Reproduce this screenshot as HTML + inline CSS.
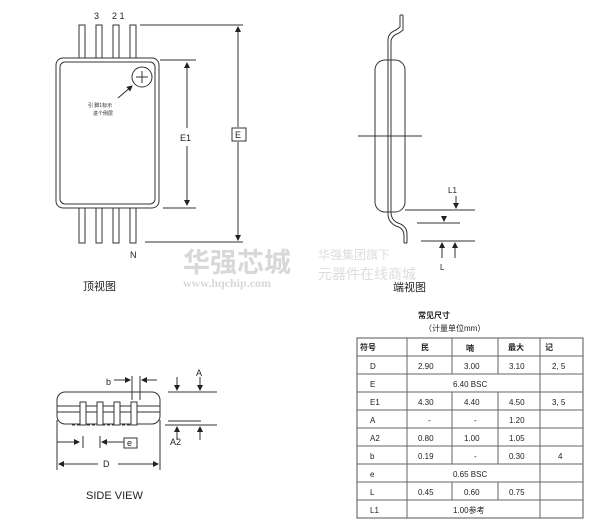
<!DOCTYPE html><html><head><meta charset="utf-8"><style>body{margin:0;background:#fff}svg{display:block;font-family:"Liberation Sans","Noto Sans CJK SC",sans-serif}</style></head><body>
<svg width="607" height="531" viewBox="0 0 607 531" xmlns="http://www.w3.org/2000/svg">
<defs><marker id="a" markerWidth="6" markerHeight="6" refX="5" refY="3" orient="auto"><path d="M0,0L6,3L0,6z" fill="#222"/></marker></defs>
<g stroke="#333" fill="none" stroke-width="1">
<rect x="79" y="25" width="6" height="35"/><rect x="96" y="25" width="6" height="35"/><rect x="113" y="25" width="6" height="35"/><rect x="130" y="25" width="6" height="35"/>
<rect x="79" y="206" width="6" height="37"/><rect x="96" y="206" width="6" height="37"/><rect x="113" y="206" width="6" height="37"/><rect x="130" y="206" width="6" height="37"/>
<rect x="56" y="58" width="103" height="150" rx="7" fill="#fff"/>
<rect x="60" y="62" width="95" height="142" rx="5"/>
<circle cx="142" cy="77" r="10"/><path d="M136,77h12M142,71v12"/>
<path d="M118,98L132,86" marker-end="url(#a)"/>
<path d="M160,60h36M163,208h33M140,25h103M145,242h98"/>
<path d="M187,128V63" marker-end="url(#a)"/><path d="M187,146V205" marker-end="url(#a)"/>
<path d="M238,127V27" marker-end="url(#a)"/><path d="M238,142V240" marker-end="url(#a)"/>
<rect x="232" y="128" width="14" height="13" fill="#fff"/>
<rect x="375" y="60" width="30" height="152" rx="10"/>
<path d="M388,212V40Q388,33 396,30L400,27V15M391,212V42Q391,36 399,33L403,30V15M400,15h3"/>
<path d="M388,212V214Q388,222 396,226Q404,228 404,236V243M391,212Q391,220 398,223Q407,226 407,234V243M404,243h3"/>
<path d="M358,136h64"/>
<path d="M405,210h70M417,223h43M421,241h54"/>
<path d="M456,196v12" marker-end="url(#a)"/><path d="M444,216v5" marker-end="url(#a)"/>
<path d="M442,258v-15" marker-end="url(#a)"/><path d="M455,258v-15" marker-end="url(#a)"/>
<rect x="57" y="392" width="103" height="32" rx="8"/>
<path d="M57,406h103M57,412h103"/>
<rect x="80" y="402" width="6" height="23" fill="#fff"/><rect x="97" y="402" width="6" height="23" fill="#fff"/><rect x="114" y="402" width="6" height="23" fill="#fff"/><rect x="131" y="402" width="6" height="23" fill="#fff"/>
<path d="M72,425h62" stroke-dasharray="3,2"/>
<path d="M132,376v24M140,376v24"/>
<path d="M114,380h16" marker-end="url(#a)"/><path d="M157,380h-15" marker-end="url(#a)"/>
<path d="M168,392h49M168,421h33M165,425h52"/>
<path d="M177,377v13" marker-end="url(#a)"/><path d="M200,377v13" marker-end="url(#a)"/>
<path d="M177,440v-13" marker-end="url(#a)"/><path d="M200,440v-13" marker-end="url(#a)"/>
<path d="M83,436v12M100,436v12"/>
<path d="M57,442h22" marker-end="url(#a)"/><path d="M124,442h-22" marker-end="url(#a)"/>
<path d="M57,420v50M160,420v50"/>
<path d="M98,464h-39" marker-end="url(#a)"/><path d="M118,464h40" marker-end="url(#a)"/>
<rect x="124" y="438" width="13" height="10" fill="#fff"/>
<rect x="357" y="338" width="226" height="180" stroke="#555"/>
<path d="M357,356h226M357,374h226M357,392h226M357,410h226M357,428h226M357,446h226M357,464h226M357,482h226M357,500h226" stroke="#666"/>
<path d="M407,338v180M540,338v180M452,338v36M452,392v72M452,482v18M498,338v36M498,392v72M498,482v18" stroke="#666"/>
</g>
<g font-size="9" fill="#222">
<text x="94" y="19">3</text><text x="112" y="19">2 1</text>
<text x="88" y="107" font-size="5">引 脚1标示</text><text x="93" y="115" font-size="5">进个例层</text>
<text x="180" y="141">E1</text><text x="235" y="138">E</text>
<text x="130" y="258">N</text>
<text x="83" y="290" font-size="11">顶视图</text>
<text x="448" y="193" font-size="8">L1</text><text x="440" y="270" font-size="8">L</text>
<text x="393" y="291" font-size="11">端视图</text>
<text x="106" y="385">b</text><text x="196" y="376">A</text><text x="170" y="445">A2</text>
<text x="127" y="446">e</text><text x="103" y="467">D</text>
<text x="86" y="499" font-size="11">SIDE VIEW</text>
</g>
<g fill="#d8d8d8" font-weight="bold"><text x="183" y="272" font-size="27">华强芯城</text><text x="183" y="287" font-size="12" font-family="Liberation Serif">www.hqchip.com</text></g>
<g fill="#ddd" font-size="12"><text x="318" y="259">华强集团旗下</text><text x="318" y="279" font-size="14">元器件在线商城</text></g>
<g font-size="8" fill="#222">
<text x="418" y="318" font-weight="bold">常见尺寸</text><text x="424" y="331">（计量单位mm）</text>
<g font-weight="bold"><text x="360" y="350">符号</text><text x="421" y="350">民</text><text x="466" y="351">喃</text><text x="508" y="350">最大</text><text x="545" y="350">记</text></g>
<text x="370" y="369">D</text><text x="418" y="369">2.90</text><text x="464" y="369">3.00</text><text x="509" y="369">3.10</text><text x="552" y="369">2, 5</text>
<text x="370" y="387">E</text><text x="453" y="387">6.40 BSC</text>
<text x="370" y="405">E1</text><text x="418" y="405">4.30</text><text x="464" y="405">4.40</text><text x="509" y="405">4.50</text><text x="552" y="405">3, 5</text>
<text x="370" y="423">A</text><text x="428" y="423">-</text><text x="474" y="423">-</text><text x="509" y="423">1.20</text>
<text x="370" y="441">A2</text><text x="418" y="441">0.80</text><text x="464" y="441">1.00</text><text x="509" y="441">1.05</text>
<text x="370" y="459">b</text><text x="418" y="459">0.19</text><text x="474" y="459">-</text><text x="509" y="459">0.30</text><text x="558" y="459">4</text>
<text x="370" y="477">e</text><text x="453" y="477">0.65 BSC</text>
<text x="370" y="495">L</text><text x="418" y="495">0.45</text><text x="464" y="495">0.60</text><text x="509" y="495">0.75</text>
<text x="370" y="513">L1</text><text x="453" y="513">1.00参考</text>
</g>
</svg></body></html>
